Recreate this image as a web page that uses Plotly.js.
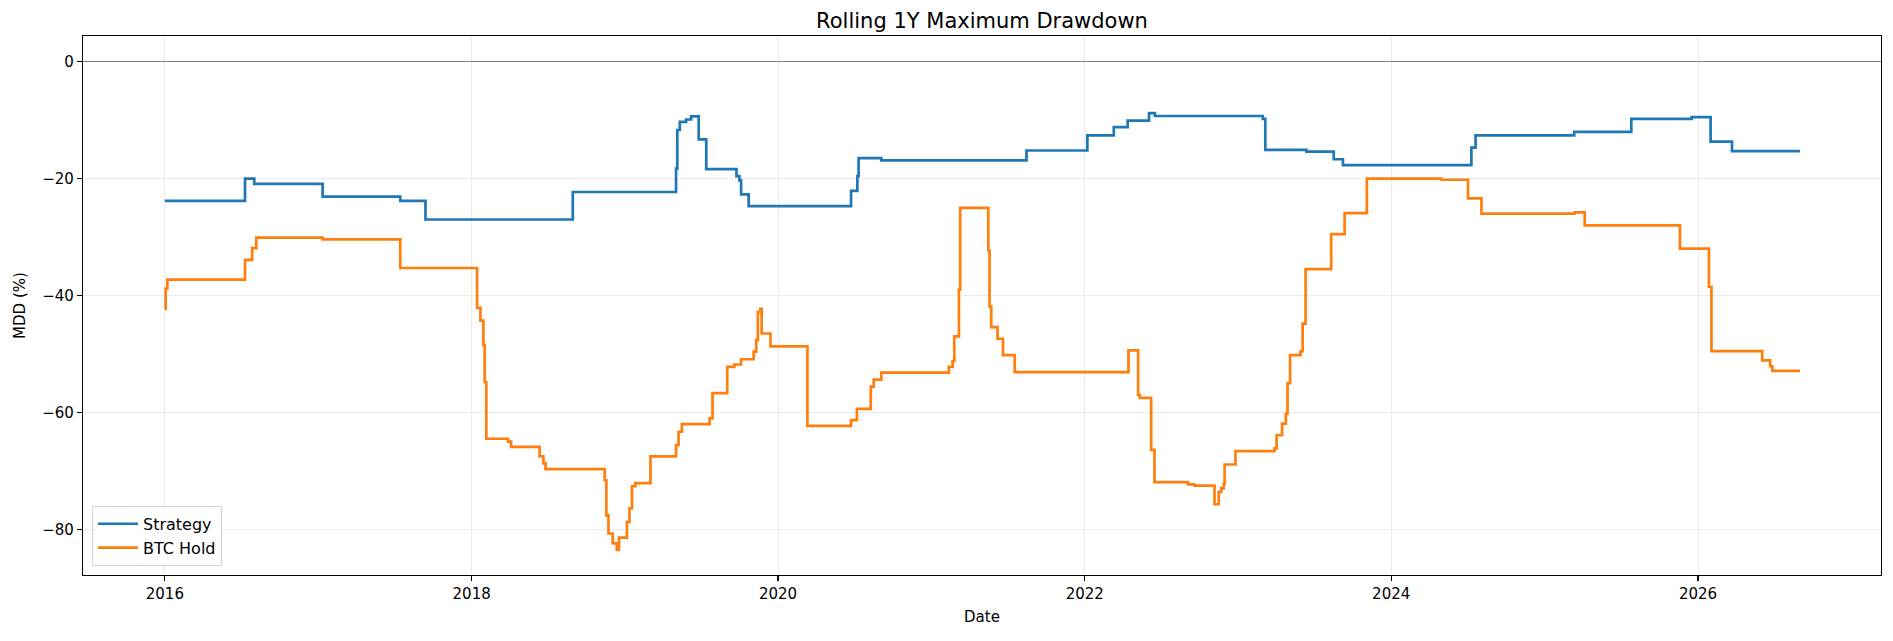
<!DOCTYPE html>
<html>
<head>
<meta charset="utf-8">
<script src="https://cdn.plot.ly/plotly-3.0.1.min.js"></script>
<style>
  html, body { margin: 0; padding: 0; background: #ffffff; }
  #chart { width: 1893px; height: 641px; }
</style>
</head>
<body>
<div id="chart"></div>
<script>
// Strategy rolling 1Y MDD (%) — step changes (date, new value)
const strategyDates = [
  '2016-01-01','2016-07-10','2016-08-01','2017-01-11','2017-07-15','2017-09-13',
  '2018-08-30','2019-05-03','2019-05-06','2019-05-12','2019-05-27','2019-06-08',
  '2019-06-26','2019-07-14','2019-09-24','2019-10-01','2019-10-05','2019-10-23',
  '2020-06-23','2020-07-08','2020-07-11','2020-09-03','2021-08-15','2022-01-07',
  '2022-03-11','2022-04-13','2022-06-03','2022-06-17','2023-03-01','2023-03-07',
  '2023-06-13','2023-08-17','2023-09-08','2024-07-10','2024-07-20','2025-03-12',
  '2025-07-26','2025-12-17','2026-01-31','2026-03-23','2026-09-01'
];
const strategyValues = [
  -23.8, -20.0, -20.9, -23.1, -23.8, -27.0,
  -22.3, -18.3, -11.7, -10.3, -9.9, -9.35,
  -13.3, -18.4, -19.6, -20.3, -22.7, -24.7,
  -22.1, -19.6, -16.5, -16.9, -15.2, -12.6,
  -11.2, -10.1, -8.8, -9.3, -9.8, -15.1,
  -15.4, -16.7, -17.7, -14.7, -12.6, -12.0,
  -9.8, -9.5, -13.7, -15.3, -15.3
];

// BTC Hold rolling 1Y MDD (%) — step changes (date, new value)
const btcDates = [
  '2016-01-01','2016-01-03','2016-01-07','2016-07-10','2016-07-27','2016-08-06',
  '2017-01-11','2017-07-15','2018-01-14','2018-01-22','2018-01-29','2018-02-01',
  '2018-02-05','2018-03-29','2018-04-05','2018-06-12','2018-06-21','2018-06-26',
  '2018-11-14','2018-11-18','2018-11-23','2018-12-03','2018-12-13','2018-12-18',
  '2019-01-06','2019-01-12','2019-01-18','2019-01-26','2019-03-03','2019-05-03',
  '2019-05-09','2019-05-17','2019-07-22','2019-07-29','2019-09-02','2019-09-19',
  '2019-10-05','2019-11-04','2019-11-10','2019-11-14','2019-11-20','2019-11-23',
  '2019-12-14','2020-03-11','2020-06-23','2020-07-07','2020-08-09','2020-08-16',
  '2020-09-03','2021-02-11','2021-02-20','2021-02-24','2021-03-07','2021-03-10',
  '2021-05-16','2021-05-19','2021-05-23','2021-06-07','2021-06-20','2021-07-18',
  '2022-04-15','2022-05-08','2022-05-12','2022-06-08','2022-06-16','2022-09-04',
  '2022-09-19','2022-11-06','2022-11-16','2022-11-22','2022-11-28','2022-11-30',
  '2022-12-26','2023-03-29','2023-04-03','2023-04-16','2023-04-25','2023-04-29',
  '2023-05-05','2023-05-30','2023-06-04','2023-06-11','2023-08-11','2023-09-12',
  '2023-11-04','2024-04-30','2024-07-02','2024-08-03','2025-03-13','2025-04-06',
  '2025-11-19','2026-01-27','2026-02-02','2026-06-03','2026-06-22','2026-06-27',
  '2026-09-01'
];
const btcValues = [
  -42.3, -38.8, -37.3, -33.9, -31.9, -30.1,
  -30.4, -35.3, -42.1, -44.3, -48.5, -54.8,
  -64.5, -65.0, -65.9, -67.5, -68.7, -69.7,
  -71.6, -77.6, -80.7, -82.4, -83.5, -81.4,
  -78.7, -76.4, -72.6, -72.1, -67.5, -65.6,
  -63.3, -62.0, -61.0, -56.7, -52.2, -51.8,
  -50.9, -49.6, -47.6, -42.8, -42.3, -46.5,
  -48.7, -62.3, -61.3, -59.4, -55.6, -54.4,
  -53.2, -52.2, -51.2, -47.0, -39.0, -25.0,
  -32.3, -41.9, -45.4, -47.4, -50.2, -53.1,
  -49.4, -57.0, -57.5, -66.4, -71.9, -72.3,
  -72.5, -75.7, -73.6, -73.0, -72.2, -68.9,
  -66.6, -66.15, -63.9, -61.9, -60.2, -55.0,
  -50.2, -49.5, -44.8, -35.5, -29.5, -25.9,
  -20.0, -20.2, -23.4, -26.0, -25.8, -28.0,
  -32.0, -38.5, -49.5, -51.1, -52.1, -52.9,
  -52.9
];

const xTickYears = ['2016-01-01','2018-01-01','2020-01-01','2022-01-01','2024-01-01','2026-01-01'];
const xTickLabels = ['2016','2018','2020','2022','2024','2026'];
const yTickValues = [0, -20, -40, -60, -80];

const FONT = 'DejaVu Sans, sans-serif';
const gridColor = '#ebebeb';

const traces = [
  {
    x: strategyDates, y: strategyValues, name: 'Strategy',
    type: 'scatter', mode: 'lines',
    line: { color: '#1f77b4', width: 2.7, shape: 'hv' }
  },
  {
    x: btcDates, y: btcValues, name: 'BTC Hold',
    type: 'scatter', mode: 'lines',
    line: { color: '#ff7f0e', width: 2.7, shape: 'hv' }
  }
];

const layout = {
  width: 1893, height: 641,
  margin: { l: 83, r: 12, t: 36, b: 66, pad: 0 },
  paper_bgcolor: '#ffffff', plot_bgcolor: '#ffffff',
  font: { family: FONT, size: 15, color: '#000000' },
  title: {
    text: 'Rolling 1Y Maximum Drawdown',
    font: { family: FONT, size: 21, color: '#000000' },
    x: 0.5, xref: 'paper', xanchor: 'center',
    y: 1 - 20.5 / 641, yref: 'container', yanchor: 'middle'
  },
  showlegend: true,
  legend: {
    x: 0.005, y: 0.017, xanchor: 'left', yanchor: 'bottom',
    bgcolor: 'rgba(255,255,255,0.8)', bordercolor: '#d4d4d4', borderwidth: 1,
    font: { family: FONT, size: 16, color: '#000000' },
    itemwidth: 40, tracegroupgap: 2
  },
  xaxis: {
    type: 'date',
    range: ['2015-06-20', '2027-03-13'],
    tickmode: 'array', tickvals: xTickYears, ticktext: xTickLabels,
    showgrid: true, gridcolor: gridColor, gridwidth: 1,
    showline: true, linecolor: '#000000', linewidth: 1.2, mirror: true,
    ticks: 'outside', ticklen: 5, tickwidth: 1.2, tickcolor: '#000000',
    zeroline: false,
    tickfont: { family: FONT, size: 15, color: '#000000' },
    title: { text: 'Date', font: { family: FONT, size: 15, color: '#000000' }, standoff: 9 }
  },
  yaxis: {
    range: [-87.8, 4.38],
    tickmode: 'array', tickvals: yTickValues,
    showgrid: true, gridcolor: gridColor, gridwidth: 1,
    showline: true, linecolor: '#000000', linewidth: 1.2, mirror: true,
    ticks: 'outside', ticklen: 5, tickwidth: 1.2, tickcolor: '#000000',
    zeroline: true, zerolinecolor: '#808080', zerolinewidth: 1.2,
    tickfont: { family: FONT, size: 15, color: '#000000' },
    title: { text: 'MDD (%)', font: { family: FONT, size: 15, color: '#000000' }, standoff: 12 }
  }
};

Plotly.newPlot('chart', traces, layout, { staticPlot: true, displayModeBar: false });
</script>
</body>
</html>
